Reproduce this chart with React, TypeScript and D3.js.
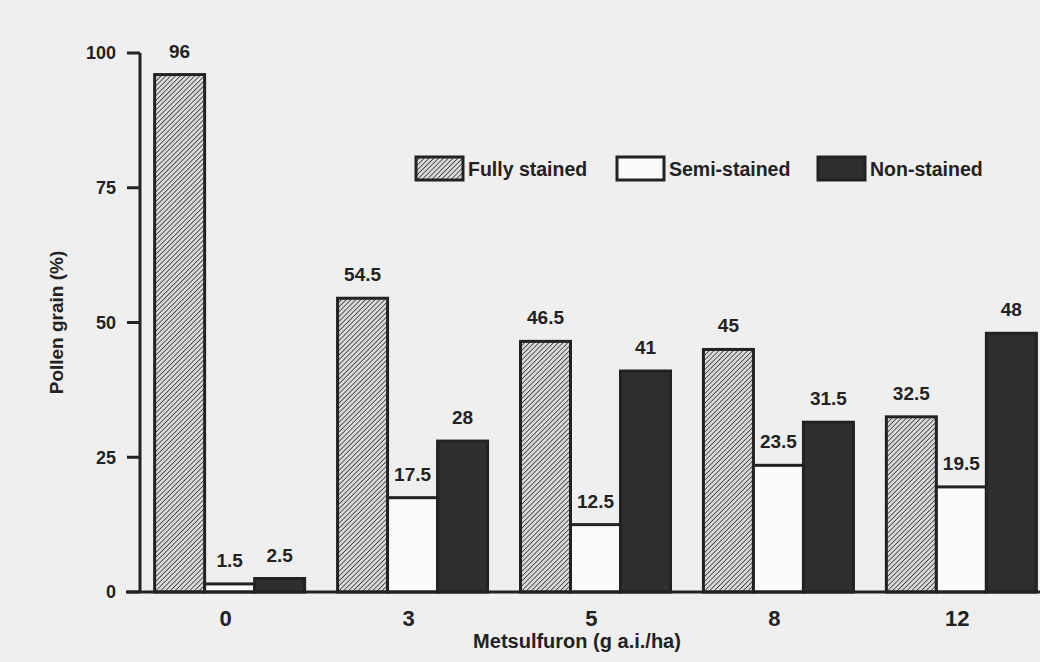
import React from 'react';
import * as d3 from 'd3';

// metsulfuron doses (g a.i./ha)
const doses = ['0', '3', '5', '8', '12'];
const seriesNames = ['Fully stained', 'Semi-stained', 'Non-stained'];
const fullyStained = [96, 54.5, 46.5, 45, 32.5];
const semiStained = [1.5, 17.5, 12.5, 23.5, 19.5];
const nonStained = [2.5, 28, 41, 31.5, 48];
const yTicks = [0, 25, 50, 75, 100];

const W = 1040;
const H = 662;
const font = '"Liberation Sans", Arial, Helvetica, sans-serif';
const ink = '#222';

const fills = ['url(#hatch)', '#fbfbfb', '#2e2e2e'];

const App = () => {
  const series = [fullyStained, semiStained, nonStained];

  const y = d3.scaleLinear().domain([0, 100]).range([592, 53]);
  const x0 = d3
    .scaleBand()
    .domain(doses)
    .range([140, 1051])
    .paddingInner(0.18)
    .paddingOuter(0.08);
  const x1 = d3
    .scaleBand()
    .domain(seriesNames)
    .range([0, x0.bandwidth()]);

  const legendX = d3
    .scalePoint()
    .domain(seriesNames)
    .range([416, 818]);

  return (
    <svg
      width={W}
      height={H}
      viewBox={`0 0 ${W} ${H}`}
      style={{ position: 'absolute', left: 0, top: 0, display: 'block' }}
      fontFamily={font}
      fontWeight="bold"
    >
      <defs>
        <pattern
          id="hatch"
          patternUnits="userSpaceOnUse"
          width="3.4"
          height="3.4"
          patternTransform="rotate(45)"
        >
          <rect width="3.4" height="3.4" fill="#d9d9d9" />
          <line x1="0" y1="0" x2="0" y2="3.4" stroke="#3a3a3a" strokeWidth="1.6" />
        </pattern>
      </defs>

      <rect width={W} height={H} fill="#efefef" />

      {/* bars */}
      {doses.map((d, i) => (
        <g key={d} transform={`translate(${x0(d)},0)`}>
          {seriesNames.map((s, j) => {
            const v = series[j][i];
            const bx = x1(s) as number;
            return (
              <g key={s}>
                <rect
                  x={bx}
                  y={y(v)}
                  width={x1.bandwidth()}
                  height={y(0) - y(v)}
                  fill={fills[j]}
                  stroke={ink}
                  strokeWidth={3}
                />
                <text
                  x={bx + x1.bandwidth() / 2}
                  y={y(v) - 17}
                  textAnchor="middle"
                  fontSize={19}
                  fill={ink}
                >
                  {v}
                </text>
              </g>
            );
          })}
          <text
            x={x0.bandwidth() / 2 - 4}
            y={626}
            textAnchor="middle"
            fontSize={22}
            fill={ink}
          >
            {d}
          </text>
        </g>
      ))}

      {/* y axis */}
      <line x1={140} x2={140} y1={y(0)} y2={y(100)} stroke={ink} strokeWidth={3} />
      {yTicks.map(t => (
        <g key={t}>
          <line x1={127} x2={140} y1={y(t)} y2={y(t)} stroke={ink} strokeWidth={3} />
          <text
            x={116}
            y={y(t)}
            dy="0.36em"
            textAnchor="end"
            fontSize={18}
            fill={ink}
          >
            {t}
          </text>
        </g>
      ))}

      {/* x axis */}
      <line x1={126} x2={W} y1={y(0)} y2={y(0)} stroke={ink} strokeWidth={3} />

      <text
        transform={`translate(63,${(y(0) + y(100)) / 2}) rotate(-90)`}
        textAnchor="middle"
        fontSize={19}
        fill={ink}
      >
        Pollen grain (%)
      </text>
      <text x={577} y={648} textAnchor="middle" fontSize={20} fill={ink}>
        Metsulfuron (g a.i./ha)
      </text>

      {/* legend */}
      {seriesNames.map((s, j) => {
        const lx = legendX(s) as number;
        return (
          <g key={s}>
            <rect
              x={lx}
              y={157}
              width={47}
              height={23}
              fill={fills[j]}
              stroke={ink}
              strokeWidth={3}
            />
            <text x={lx + 52} y={176} fontSize={19.5} fill={ink}>
              {s}
            </text>
          </g>
        );
      })}
    </svg>
  );
};

export default App;
